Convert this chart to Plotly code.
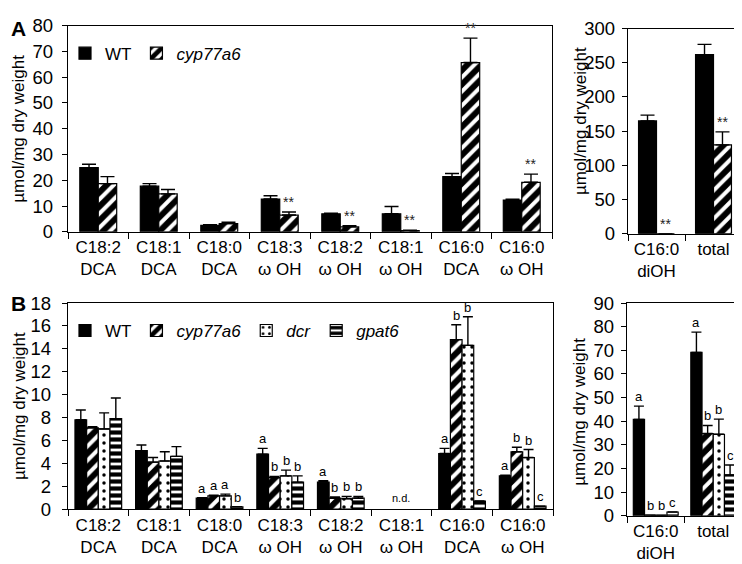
import plotly.graph_objects as go

# ---------------- data ----------------
cats_main = ["C18:2<br>DCA", "C18:1<br>DCA", "C18:0<br>DCA", "C18:3<br>ω OH",
             "C18:2<br>ω OH", "C18:1<br>ω OH", "C16:0<br>DCA", "C16:0<br>ω OH"]
cats_side = ["C16:0<br>diOH", "total"]

# Panel A (left)
wt_A = [24.9, 17.7, 2.5, 12.7, 7.0, 7.0, 21.4, 12.3]
wt_A_err = [1.3, 1.0, 0.2, 1.3, 0.2, 2.8, 1.2, 0.3]
cyp_A = [18.7, 14.7, 3.2, 6.5, 1.9, 0.5, 65.7, 19.2]
cyp_A_err = [2.7, 1.7, 0.5, 1.2, 0.5, 0.1, 9.5, 3.2]
sig_A = ["", "", "", "**", "**", "**", "**", "**"]

# Panel A (right)
wt_As = [165, 262]
wt_As_err = [8.5, 15]
cyp_As = [0, 130]
cyp_As_err = [0, 19]
sig_As = ["**", "**"]

# Panel B (left)  (C18:1 ω OH not detected -> None)
wt_B = [7.8, 5.1, 0.95, 4.8, 2.35, None, 4.85, 2.9]
wt_B_err = [0.85, 0.5, 0.05, 0.5, 0.12, 0, 0.45, 0.05]
cyp_B = [7.1, 4.1, 1.15, 2.75, 0.95, None, 14.8, 5.0]
cyp_B_err = [0.1, 0.4, 0.05, 0.1, 0.1, 0, 1.3, 0.4]
dcr_B = [7.0, 4.2, 1.15, 2.9, 0.9, None, 14.3, 4.5]
dcr_B_err = [1.4, 0.8, 0.15, 0.5, 0.2, 0, 2.5, 0.7]
gpat_B = [7.9, 4.6, 0.2, 2.35, 0.95, None, 0.7, 0.25]
gpat_B_err = [1.8, 0.85, 0, 0.55, 0.15, 0, 0, 0]
let_wt_B = ["", "", "a", "a", "a", "", "a", "a"]
let_cyp_B = ["", "", "a", "b", "b", "", "b", "b"]
let_dcr_B = ["", "", "a", "b", "b", "", "b", "b"]
let_gpat_B = ["", "", "b", "b", "b", "", "c", "c"]

# Panel B (right)
wt_Bs = [40.8, 69.1]
wt_Bs_err = [5.6, 8.6]
cyp_Bs = [0.3, 34.8]
cyp_Bs_err = [0, 3.4]
dcr_Bs = [0.2, 34.5]
dcr_Bs_err = [0, 6.4]
gpat_Bs = [1.6, 17.3]
gpat_Bs_err = [0, 4.2]
let_wt_Bs = ["a", "a"]
let_cyp_Bs = ["b", "b"]
let_dcr_Bs = ["b", "b"]
let_gpat_Bs = ["c", "c"]

# ---------------- styles ----------------
FONT = "Liberation Sans, Arial, sans-serif"
W, H = 742, 564
LINE = dict(color="black", width=1.2)

styles = {
    "WT": dict(color="black", line=LINE),
    "cyp": dict(color="white", line=LINE,
                pattern=dict(shape="/", fgcolor="black", bgcolor="white", fgopacity=1,
                             size=10, solidity=0.6)),
    "dcr": dict(color="white", line=LINE,
                pattern=dict(shape=".", fgcolor="black", bgcolor="white", fgopacity=1,
                             size=8, solidity=0.15)),
    "gpat": dict(color="white", line=LINE,
                 pattern=dict(shape="-", fgcolor="black", bgcolor="white", fgopacity=1,
                              size=7, solidity=0.6)),
}
names = {"WT": "WT", "cyp": "<i>cyp77a6</i>", "dcr": "<i>dcr</i>", "gpat": "<i>gpat6</i>"}

fig = go.Figure()
annotations = []


def add_panel(xa, ya, cats, series, G, capw, legend=None, labels=None, lab_size=13, lab_color="black"):
    n = len(series)
    w = G / n
    for k, (key, vals, errs) in enumerate(series):
        fig.add_trace(go.Bar(
            x=cats, y=vals, xaxis=xa, yaxis=ya,
            name=names[key], marker=styles[key],
            width=w, offset=-G / 2 + k * w,
            error_y=dict(type="data", array=errs, arrayminus=[0] * len(errs), symmetric=False,
                         color="black", thickness=1.4, width=capw),
            showlegend=legend is not None, legend=legend if legend else "legend",
            hoverinfo="skip",
        ))
        if labels is not None:
            for i, t in enumerate(labels[k]):
                if t:
                    annotations.append(dict(
                        x=i - G / 2 + (k + 0.5) * w, y=vals[i] + errs[i],
                        xref=xa, yref=ya, text=t, showarrow=False, yanchor="bottom",
                        font=dict(size=lab_size, color=lab_color, family=FONT)))


# Panel A left
add_panel("x", "y", cats_main, [("WT", wt_A, wt_A_err), ("cyp", cyp_A, cyp_A_err)], 0.61, 7,
          legend="legend", labels=[[""] * 8, sig_A], lab_size=14, lab_color="#222")
# Panel A right
add_panel("x2", "y2", cats_side, [("WT", wt_As, wt_As_err), ("cyp", cyp_As, cyp_As_err)], 0.63, 7,
          labels=[["", ""], sig_As], lab_size=14, lab_color="#222")
# Panel B left
add_panel("x3", "y3", cats_main,
          [("WT", wt_B, wt_B_err), ("cyp", cyp_B, cyp_B_err), ("dcr", dcr_B, dcr_B_err), ("gpat", gpat_B, gpat_B_err)],
          0.77, 5, legend="legend2", labels=[let_wt_B, let_cyp_B, let_dcr_B, let_gpat_B])
# Panel B right
add_panel("x4", "y4", cats_side,
          [("WT", wt_Bs, wt_Bs_err), ("cyp", cyp_Bs, cyp_Bs_err), ("dcr", dcr_Bs, dcr_Bs_err), ("gpat", gpat_Bs, gpat_Bs_err)],
          0.78, 5, labels=[let_wt_Bs, let_cyp_Bs, let_dcr_Bs, let_gpat_Bs])


def px_x(p):
    return p / W


def px_y(p):
    return 1 - p / H


axis_common = dict(showline=True, linecolor="black", linewidth=1.3, mirror=True,
                   ticks="outside", tickcolor="black", tickwidth=1.3, showgrid=False, zeroline=False,
                   fixedrange=True)


def xaxis(domain, n, anchor):
    return dict(axis_common, domain=domain, type="category", range=[-0.5, n - 0.5],
                tickson="boundaries", ticklen=6, anchor=anchor,
                tickfont=dict(size=17, family=FONT, color="black"))


def yaxis(domain, rng, dtick, anchor, standoff):
    return dict(axis_common, domain=domain, range=rng, dtick=dtick, ticklen=5, anchor=anchor,
                ticklabelstandoff=standoff, tickfont=dict(size=18.5, family=FONT, color="black"))


fig.update_layout(
    width=W, height=H, autosize=False,
    margin=dict(l=0, r=0, t=0, b=0),
    paper_bgcolor="white", plot_bgcolor="white",
    barmode="overlay",
    font=dict(family=FONT, color="black"),
    xaxis=xaxis([px_x(60), px_x(544)], 8, "y"),
    yaxis=yaxis([px_y(221), px_y(7)], [0, 80], 10, "x", 5),
    xaxis2=xaxis([px_x(620), px_x(734)], 2, "y2"),
    yaxis2=yaxis([px_y(223), px_y(10)], [0, 300], 50, "x2", 3),
    xaxis3=xaxis([px_x(60), px_x(545)], 8, "y3"),
    yaxis3=yaxis([px_y(509), px_y(295)], [0, 18], 2, "x3", 7),
    xaxis4=xaxis([px_x(619), px_x(734)], 2, "y4"),
    yaxis4=yaxis([px_y(516), px_y(295)], [0, 90], 10, "x4", 3),
    legend=dict(x=px_x(57), y=px_y(36), xanchor="left", yanchor="middle", orientation="h",
                bgcolor="rgba(0,0,0,0)", font=dict(size=17, family=FONT, color="black"),
                itemclick=False, itemdoubleclick=False),
    legend2=dict(x=px_x(57), y=px_y(324), xanchor="left", yanchor="middle", orientation="h",
                 bgcolor="rgba(0,0,0,0)", font=dict(size=17, family=FONT, color="black"),
                 itemclick=False, itemdoubleclick=False),
)

# titles and panel letters
ytitle = "µmol/mg dry weight"
for xc, yc in [(11, 114), (572, 106), (11, 402), (572, 408)]:
    annotations.append(dict(x=px_x(xc), y=px_y(yc), xref="paper", yref="paper", text=ytitle,
                            textangle=-90, showarrow=False, xanchor="center", yanchor="middle",
                            font=dict(size=17, family=FONT, color="black")))
for t, xc, yc in [("A", 10, 10), ("B", 10, 296)]:
    annotations.append(dict(x=px_x(xc), y=px_y(yc), xref="paper", yref="paper", text="<b>%s</b>" % t,
                            showarrow=False, xanchor="center", yanchor="middle",
                            font=dict(size=21, family=FONT, color="black")))
annotations.append(dict(x=5, y=0.3, xref="x3", yref="y3", text="n.d.", showarrow=False, yanchor="bottom",
                        font=dict(size=11, family=FONT, color="black")))

fig.update_layout(annotations=annotations)
fig.write_html("out.html")
